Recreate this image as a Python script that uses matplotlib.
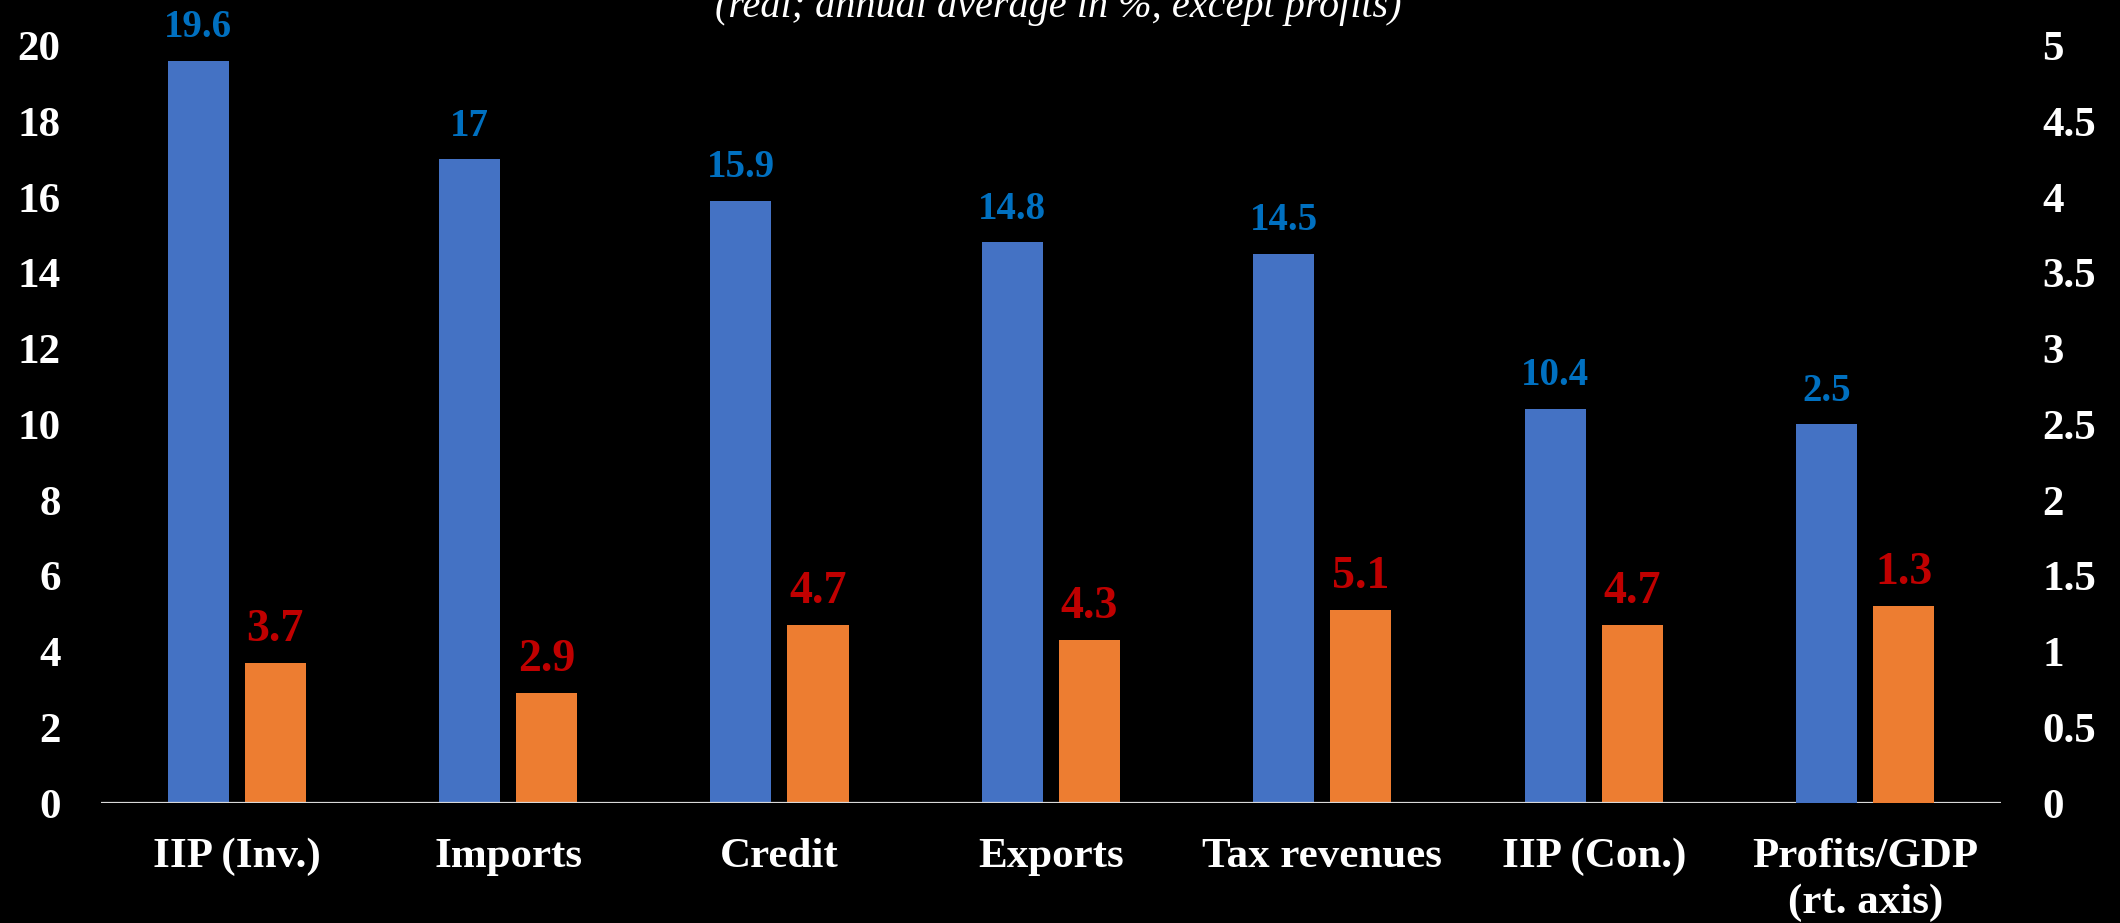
import matplotlib
matplotlib.use("Agg")
import matplotlib.pyplot as plt
import numpy as np
from matplotlib.ticker import FuncFormatter

categories = ["IIP (Inv.)", "Imports", "Credit", "Exports", "Tax revenues",
              "IIP (Con.)", "Profits/GDP\n(rt. axis)"]
blue_values = [19.6, 17, 15.9, 14.8, 14.5, 10.4, 2.5]
orange_values = [3.7, 2.9, 4.7, 4.3, 5.1, 4.7, 1.3]
# the last category is read against the right-hand axis
right_axis_flags = [False, False, False, False, False, False, True]
title_text = "(real; annual average in %, except profits)"

BLUE = "#4472C4"
ORANGE = "#ED7D31"
BLUE_TXT = "#0070C0"
RED_TXT = "#C00000"
FONT = "Liberation Serif"

fig = plt.figure(figsize=(21.2, 9.23), dpi=100, facecolor="black")
ax = fig.add_axes([0.0476, 0.130, 0.8962, 0.8207])
ax2 = ax.twinx()
for a in (ax, ax2):
    a.set_facecolor("none")
    for s in a.spines.values():
        s.set_visible(False)
ax.set_facecolor("black")

ax.set_ylim(0, 20)
ax2.set_ylim(0, 5)
x = np.arange(len(categories))
ax.set_xlim(-0.5, len(categories) - 0.5)

width = 0.225
off = 0.142
for i, (b, o, rt) in enumerate(zip(blue_values, orange_values, right_axis_flags)):
    target = ax2 if rt else ax
    target.bar(x[i] - off, b, width, color=BLUE, zorder=2)
    target.bar(x[i] + off, o, width, color=ORANGE, zorder=2)
    target.annotate(f"{b:g}", (x[i] - off, b), xytext=(0, 17), textcoords="offset points",
                    ha="center", va="baseline", color=BLUE_TXT, fontsize=28,
                    fontweight="bold", family=FONT)
    target.annotate(f"{o:g}", (x[i] + off, o), xytext=(0, 16), textcoords="offset points",
                    ha="center", va="baseline", color=RED_TXT, fontsize=33,
                    fontweight="bold", family=FONT)

ax.axhline(0, color="#D9D9D9", lw=1.6, zorder=3)

ax.set_yticks(np.arange(0, 21, 2))
ax2.set_yticks(np.arange(0, 5.01, 0.5))
ax2.yaxis.set_major_formatter(FuncFormatter(lambda v, p: f"{v:g}"))
ax.set_xticks(x)
ax.set_xticklabels(categories, linespacing=1.28)

ax.tick_params(axis="y", length=0, pad=29, colors="white", labelsize=31)
ax2.tick_params(axis="y", length=0, pad=30, colors="white", labelsize=31)
ax.tick_params(axis="x", length=0, pad=25, colors="white", labelsize=31)
for lab in ax.get_yticklabels() + ax2.get_yticklabels() + ax.get_xticklabels():
    lab.set_fontfamily(FONT)
    lab.set_fontweight("bold")
for lab in ax2.get_yticklabels():
    lab.set_ha("left")

fig.text(0.499, 1 - 17 / 923, title_text, ha="center", va="baseline",
         color="white", fontsize=29, style="italic", family=FONT)

fig.savefig("out.png", dpi=100, facecolor="black")
